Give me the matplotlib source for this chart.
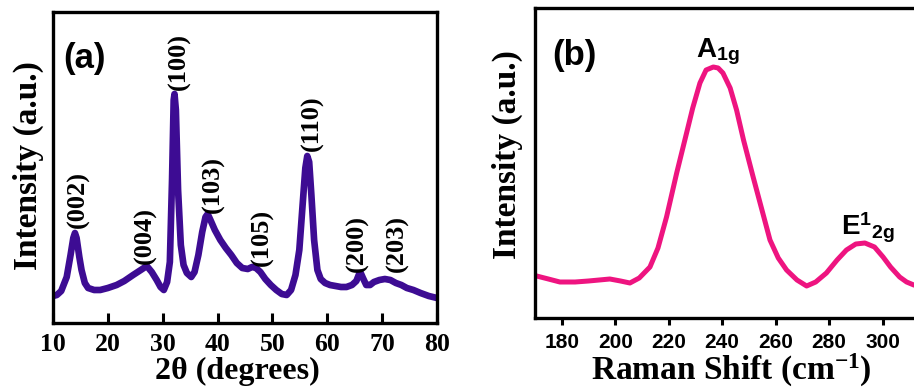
import matplotlib
matplotlib.use("Agg")
import matplotlib.pyplot as plt

# ---------------- data ----------------
xrd_2theta = [10.0, 10.7, 11.5, 12.5, 13.2, 13.7, 14.0, 14.3, 14.8, 15.2, 15.8, 16.4,
              17.5, 18.6, 20.0, 21.6, 23.0, 24.6, 26.0, 27.1, 28.0, 28.9, 29.6, 30.2,
              30.8, 31.3, 31.7, 32.0, 32.15, 32.4, 32.8, 33.3, 33.8, 34.4, 35.2, 35.8,
              36.5, 37.2, 37.8, 38.2, 38.7, 39.5, 40.5, 41.5, 42.5, 43.5, 44.5, 45.5,
              46.3, 47.0, 47.8, 48.7, 49.7, 50.7, 51.7, 52.6, 53.4, 54.2, 54.9, 55.5,
              56.0, 56.35, 56.7, 57.1, 57.6, 58.2, 58.8, 59.6, 60.5, 61.5, 62.5, 63.5,
              64.5, 65.3, 65.8, 66.1, 66.5, 67.1, 67.8, 68.5, 69.5, 70.5, 71.5, 72.5,
              73.5, 74.5, 75.7, 77.0, 78.5, 80.0]
xrd_intensity = [27, 28, 32, 46, 68, 85, 90, 85, 66, 53, 40, 35,
                 33, 33, 35, 38, 42, 48, 53, 57, 51, 43, 36, 33,
                 41, 61, 143, 223, 229, 213, 133, 78, 58, 50, 46, 51,
                 68, 91, 106, 109, 103, 93, 83, 75, 68, 60, 55, 54,
                 56, 55, 51, 44, 38, 33, 29, 28, 33, 48, 73, 118,
                 155, 167, 161, 128, 83, 53, 44, 40, 38, 37, 36, 36,
                 38, 42, 49, 50, 45, 38, 38, 41, 43, 44, 43, 40,
                 38, 35, 33, 30, 27, 25]

xrd_labels = ["(002)", "(004)", "(100)", "(103)", "(105)", "(110)", "(200)", "(203)"]
xrd_label_x = [14.7, 26.8, 33.1, 39.3, 48.1, 57.2, 65.4, 72.7]
xrd_label_y = [124, 88, 262, 139, 86, 200, 79, 79]

raman_shift = [170.6, 175, 179.3, 185, 190, 198, 202, 205.5, 209, 213, 216, 219.2,
               223, 226.7, 229, 231.7, 234, 236.7, 238.5, 240.3, 243, 245.4, 248,
               251.6, 255, 257.9, 261, 264.1, 268, 271.6, 275, 279, 283, 286.5, 290,
               293.4, 297, 300.2, 303, 306.4, 309, 311.7, 315]
raman_intensity = [42, 39, 36, 36, 37, 39, 37, 35, 40, 51, 70, 101,
                   145, 185, 210, 235, 248, 251, 250, 245, 230, 208, 178,
                   141, 107, 78, 60, 48, 38, 32, 36, 45, 58, 68, 74,
                   75, 71, 61, 51, 41, 36, 33, 31]

raman_labels = [r"$\mathsf{A}_{\mathsf{1g}}$", r"$\mathsf{E}^{\mathsf{1}}{}_{\mathsf{2g}}$"]
raman_label_x = [238.4, 294.5]
raman_label_y = [266, 90]

xrd_ticks = [10, 20, 30, 40, 50, 60, 70, 80]
raman_ticks = [180, 200, 220, 240, 260, 280, 300]

# ---------------- styling ----------------
plt.rcParams["mathtext.fontset"] = "custom"
plt.rcParams["mathtext.rm"] = "Liberation Serif:bold"
plt.rcParams["mathtext.bf"] = "Liberation Serif:bold"
plt.rcParams["mathtext.sf"] = "Liberation Sans:bold"
plt.rcParams["mathtext.it"] = "Liberation Serif:bold"

SERIF = "Liberation Serif"
SANS = "Liberation Sans"
W, H = 914, 390
fig = plt.figure(figsize=(W / 100, H / 100), dpi=100)

def box(l, t, r, b):
    return [l / W, 1 - b / H, (r - l) / W, (b - t) / H]

# ---- panel (a) ----
ax1 = fig.add_axes(box(53, 12, 437, 323))
ax1.plot(xrd_2theta, xrd_intensity, color="#3d0c93", lw=4.8, solid_joinstyle="round")
ax1.set_xlim(10, 80)
ax1.set_ylim(0, 311)
ax1.set_xticks(xrd_ticks)
ax1.set_yticks([])
ax1.tick_params(axis="x", direction="in", length=7, width=2.2, pad=7)
for lab in ax1.get_xticklabels():
    lab.set_fontfamily(SERIF)
    lab.set_fontweight("bold")
    lab.set_fontsize(18.5)
for s in ax1.spines.values():
    s.set_linewidth(2.4)
for t, x, y in zip(xrd_labels, xrd_label_x, xrd_label_y):
    ax1.text(x, y, t, rotation=90, ha="center", va="center", fontsize=19,
             fontfamily=SERIF, fontweight="bold")
ax1.text(0.026, 0.849, "(a)", transform=ax1.transAxes, ha="left", va="center",
         fontsize=25, fontfamily=SANS, fontweight="bold")

fig.text(237 / W, 1 - 371 / H, "2θ (degrees)", ha="center", va="center",
         fontsize=23, fontfamily=SERIF, fontweight="bold")
fig.text(28 / W, 1 - 166 / H, "Intensity (a.u.)", rotation=90, ha="center", va="center",
         fontsize=24, fontfamily=SERIF, fontweight="bold")

# ---- panel (b) ----
ax2 = fig.add_axes(box(535, 8, 936, 318))
ax2.plot(raman_shift, raman_intensity, color="#ee1480", lw=3.6, solid_joinstyle="round")
ax2.set_xlim(170, 320)
ax2.set_ylim(0, 310)
ax2.set_xticks(raman_ticks)
ax2.set_yticks([])
ax2.tick_params(axis="x", direction="out", length=5, width=2.2, pad=6)
for lab in ax2.get_xticklabels():
    lab.set_fontfamily(SANS)
    lab.set_fontweight("bold")
    lab.set_fontsize(15)
for s in ax2.spines.values():
    s.set_linewidth(2.4)
for t, x, y in zip(raman_labels, raman_label_x, raman_label_y):
    ax2.text(x, y, t, ha="center", va="center", fontsize=20)
ax2.text(0.042, 0.848, "(b)", transform=ax2.transAxes, ha="left", va="center",
         fontsize=25, fontfamily=SANS, fontweight="bold")

fig.text(731 / W, 1 - 389 / H, r"Raman Shift (cm$^{\mathbf{-1}}$)", ha="center", va="bottom",
         fontsize=24, fontfamily=SERIF, fontweight="bold")
fig.text(507 / W, 1 - 155 / H, "Intensity (a.u.)", rotation=90, ha="center", va="center",
         fontsize=24, fontfamily=SERIF, fontweight="bold")

fig.savefig("out.png", dpi=100, facecolor="white")
